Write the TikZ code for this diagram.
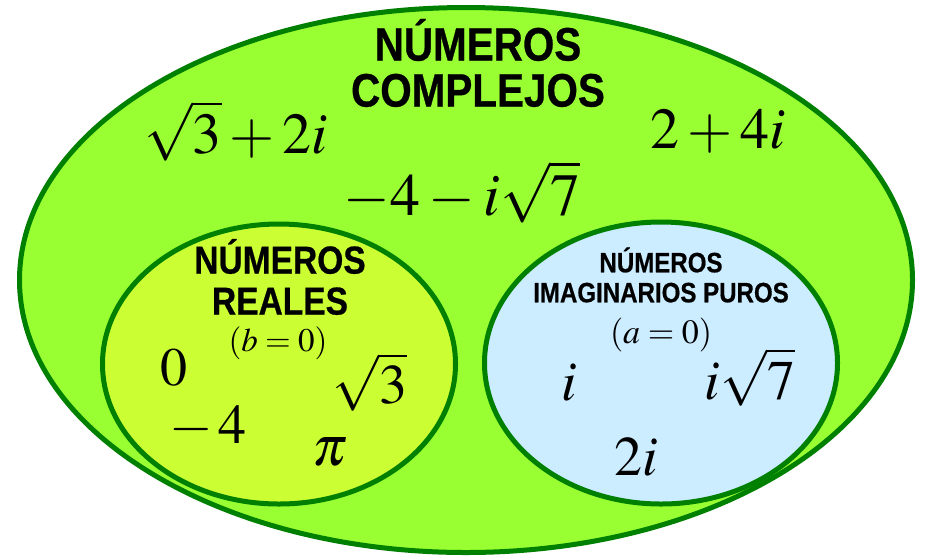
\documentclass[tikz,border=0pt]{standalone}
\usepackage{mathptmx}
\usepackage[no-math]{fontspec}
\newfontfamily\rotfont[FakeStretch=0.86,FakeBold=0.6]{Liberation Sans}
\usetikzlibrary{shapes.geometric}

\definecolor{verdeC}{HTML}{99FF33}
\definecolor{verdeR}{HTML}{CCFF33}
\definecolor{azulI}{HTML}{CCECFF}
\definecolor{borde}{HTML}{008000}

\begin{document}
\begin{tikzpicture}[x=1pt,y=-1pt,
  conj/.style={ellipse,draw=borde,line width=5pt,inner sep=0pt},
  tit/.style={align=center,inner sep=0pt,font=\rotfont\bfseries},
  num/.style={inner sep=0pt}]
  \useasboundingbox (0,0) rectangle (925,558);
  % Outer: complex numbers
  \node[conj,fill=verdeC,minimum width=893pt,minimum height=545pt] (complejos) at (466,280) {};
  \node[tit,font=\rotfont\bfseries\fontsize{47}{46}\selectfont] (tcomp) at (478,63) {NÚMEROS\\COMPLEJOS};
  \node[num,font=\fontsize{58}{58}\selectfont] (c1) at (236,131) {$\sqrt{3}+2i$};
  \node[num,font=\fontsize{58}{58}\selectfont] (c2) at (718,131) {$2+4i$};
  \node[num,font=\fontsize{60}{60}\selectfont] (c3) at (462,192) {$-4-i\sqrt{7}$};
  % Left: real numbers
  \node[conj,fill=verdeR,minimum width=353pt,minimum height=280pt] (reales) at (279,364) {};
  \node[tit,font=\rotfont\bfseries\fontsize{39}{41}\selectfont] (treal) at (280,277) {NÚMEROS\\REALES};
  \node[num,font=\fontsize{33}{33}\selectfont] (bcero) at (278,343) {$(b=0)$};
  \node[num,font=\fontsize{54}{54}\selectfont] (r1) at (174,368) {$0$};
  \node[num,font=\fontsize{56}{56}\selectfont] (r2) at (208,427) {$-\,4$};
  \node[num,font=\fontsize{56}{56}\selectfont] (r3) at (370,382) {$\sqrt{3}$};
  \node[num,font=\fontsize{56}{56}\selectfont] (r4) at (330,452) {$\pi$};
  % Right: pure imaginary numbers
  \node[conj,fill=azulI,minimum width=353pt,minimum height=282pt] (imaginarios) at (661,363) {};
  \node[tit,font=\rotfont\bfseries\fontsize{28}{30}\selectfont] (timag) at (661,275) {NÚMEROS\\IMAGINARIOS PUROS};
  \node[num,font=\fontsize{34}{34}\selectfont] (acero) at (661,335) {$(a=0)$};
  \node[num,font=\fontsize{56}{56}\selectfont] (i1) at (569,383) {$i$};
  \node[num,font=\fontsize{56}{56}\selectfont] (i2) at (750,377) {$i\sqrt{7}$};
  \node[num,font=\fontsize{56}{56}\selectfont] (i3) at (636,457) {$2i$};
\end{tikzpicture}
\end{document}
